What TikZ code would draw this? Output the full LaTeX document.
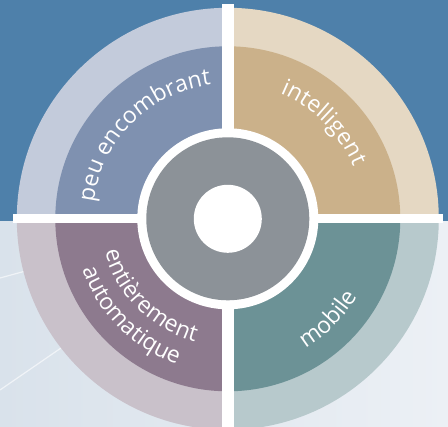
\documentclass[tikz,border=0pt]{standalone}
\usepackage{fontspec}
\usetikzlibrary{decorations.text}
\newfontfamily\quadfont{Open Sans}
\newcommand\labelfont{\quadfont\fontsize{23}{27}\selectfont}
\definecolor{bgblue}{HTML}{4E80AA}
\definecolor{bgleft}{HTML}{D9E2EB}
\definecolor{bgright}{HTML}{ECF0F5}
\definecolor{tlout}{HTML}{C3CBDB}
\definecolor{tlin}{HTML}{7F91B0}
\definecolor{trout}{HTML}{E5D8C3}
\definecolor{trin}{HTML}{CBB18A}
\definecolor{blout}{HTML}{C9C1CA}
\definecolor{blin}{HTML}{8D7A8E}
\definecolor{brout}{HTML}{B7C9CC}
\definecolor{brin}{HTML}{6C9296}
\definecolor{hubgray}{HTML}{8C9298}
\tikzset{
  quadlabel/.style={decorate, decoration={text along path, text align=center,
    text color=white, text={|\labelfont|#1}}},
  ray/.style={white, opacity=0.6, line width=1.2pt}
}
\begin{document}
\begin{tikzpicture}[x=1pt,y=1pt]
            \useasboundingbox (-227.8,-208.2) rectangle (220.2,218.8);
            \clip (-227.8,-208.2) rectangle (220.2,218.8);
            % background
            \shade[left color=bgleft, right color=bgright] (-227.8,-208.2) rectangle (220.2,0);
            \fill[bgblue] (-227.8,-2) rectangle (220.2,218.8);
            \coordinate (r1a) at (-227.8,-59.2);
            \coordinate (r1b) at (-150,-38);
            \coordinate (r2a) at (-227.8,-171.2);
            \coordinate (r2b) at (-120,-97);
            \draw[ray] (r1a) -- (r1b);
            \draw[ray] (r2a) -- (r2b);
            % quadrants
            \foreach \a/\outer/\inner in {90/tlout/tlin, 0/trout/trin, 180/blout/blin, 270/brout/brin}{
                \fill[\outer] (0,0) -- (\a:211) arc[start angle=\a, delta angle=90, radius=211] -- cycle;
                \fill[\inner] (0,0) -- (\a:172.5) arc[start angle=\a, delta angle=90, radius=172.5] -- cycle;
            }
            \fill[white] (-6.1,-215) rectangle (6.2,215);
            \fill[white] (-215,-4.7) rectangle (215,4.8);
            % hub
            \fill[white] (0,0) circle[radius=90.5];
            \fill[hubgray] (0,0) circle[radius=81.5];
            \fill[white] (0,0) circle[radius=34];
            % labels
            \path[quadlabel={peu encombrant}] (180:135) arc[start angle=180, end angle=90, radius=135];
            \path[quadlabel={intelligent}] (90:136) arc[start angle=90, end angle=0, radius=136];
            \path[quadlabel={mobile}] (270:151) arc[start angle=270, end angle=360, radius=151];
            \path[quadlabel={entièrement}] (180:127) arc[start angle=180, end angle=270, radius=127];
            \path[quadlabel={automatique}] (180:154) arc[start angle=180, end angle=270, radius=154];
\end{tikzpicture}
\end{document}
